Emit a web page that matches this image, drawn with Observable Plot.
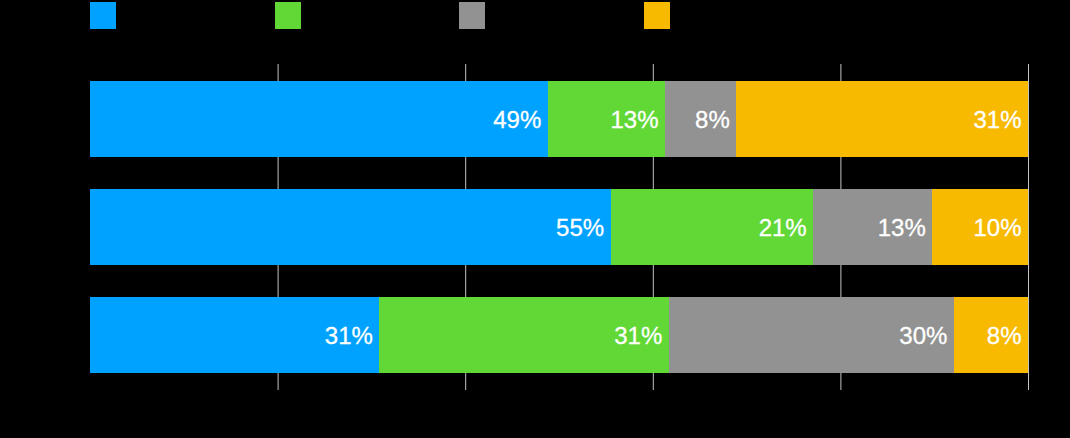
<!DOCTYPE html>
<html>
<head>
<meta charset="utf-8">
<script src="https://cdn.jsdelivr.net/npm/d3@7"></script>
<script src="https://cdn.jsdelivr.net/npm/@observablehq/plot@0.6"></script>
<style>
  html, body { margin: 0; padding: 0; background: #000; }
  #legend { position: relative; height: 32px; width: 1070px; }
  .sw { position: absolute; top: 2px; width: 26px; height: 27px; }
  #chart svg { display: block; }
</style>
</head>
<body>
<div id="legend"></div>
<div id="chart"></div>
<script>
const rows = ["Row 1", "Row 2", "Row 3"];
const series = ["Series 1", "Series 2", "Series 3", "Series 4"];
const colors = ["#00A2FF", "#61D836", "#929292", "#F8BA00"];
// shares (%) as drawn
const row1 = [48.8, 12.5, 7.6, 31.1];
const row2 = [55.5, 21.6, 12.7, 10.2];
const row3 = [30.85, 30.85, 30.4, 7.9];
// labels as printed
const label1 = ["49%", "13%", "8%", "31%"];
const label2 = ["55%", "21%", "13%", "10%"];
const label3 = ["31%", "31%", "30%", "8%"];
const gridTicks = [0.2, 0.4, 0.6, 0.8, 1.0];

const values = [row1, row2, row3];
const labels = [label1, label2, label3];
const data = [];
rows.forEach((r, i) => series.forEach((s, j) => data.push({row: r, series: s, value: values[i][j], label: labels[i][j]})));

// Legend (swatches only, as in the reference)
const legend = document.getElementById("legend");
const swatchLeft = [90, 275, 459, 644];
series.forEach((s, j) => {
  const d = document.createElement("div");
  d.className = "sw";
  d.style.left = swatchLeft[j] + "px";
  d.style.background = colors[j];
  d.title = s;
  legend.appendChild(d);
});

const chart = Plot.plot({
  width: 1070,
  height: 406,
  marginLeft: 90,
  marginRight: 42,
  marginTop: 32,
  marginBottom: 48,
  style: {background: "#000"},
  x: {domain: [0, 1], axis: null},
  y: {domain: rows, axis: null, paddingInner: 0.296, paddingOuter: 0.157},
  color: {domain: series, range: colors},
  marks: [
    Plot.gridX(gridTicks, {stroke: "#c4c4c4", strokeOpacity: 1, strokeWidth: 1}),
    Plot.barX(data, Plot.stackX({x: "value", y: "row", fill: "series", z: "series", offset: "normalize", shapeRendering: "crispEdges"})),
    Plot.text(data, Plot.stackX2({
      x: "value", y: "row", z: "series", offset: "normalize",
      text: "label",
      textAnchor: "end", dx: -7, dy: 1,
      fill: "#fff", stroke: "#fff", strokeWidth: 0.3, fontSize: 24, fontWeight: "normal",
      fontFamily: "'Liberation Sans', Arial, sans-serif"
    }))
  ]
});
document.getElementById("chart").appendChild(chart);
</script>
</body>
</html>
